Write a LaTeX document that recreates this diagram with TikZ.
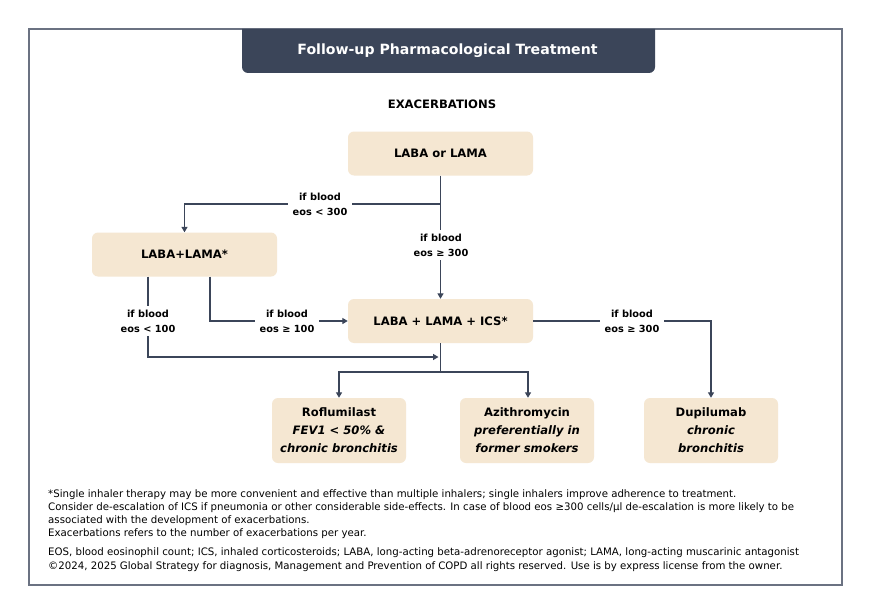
\documentclass[tikz,border=0pt]{standalone}
\usepackage{fontspec}
\setmainfont{DejaVu Sans}
\newfontfamily\footfont[FakeStretch=0.99]{DejaVu Sans}
\usetikzlibrary{arrows.meta}
\definecolor{boxfill}{HTML}{F5E7D2}
\definecolor{darkc}{HTML}{3B4559}
\definecolor{framec}{HTML}{6B7282}
\tikzset{
  treat/.style={fill=boxfill, rounded corners=6pt, minimum width=185pt, minimum height=44pt,
    font=\fontsize{11.6}{14}\selectfont\bfseries, align=center, inner sep=0pt},
  drug/.style={fill=boxfill, rounded corners=6pt, minimum width=134pt, minimum height=65pt,
    font=\fontsize{11.6}{18}\selectfont\bfseries, align=center, inner sep=0pt},
  conn/.style={draw=darkc, line width=1.4pt, -{Triangle[width=6pt,length=5.5pt]}},
  line/.style={draw=darkc, line width=1.4pt},
  cond/.style={fill=white, font=\fontsize{9.8}{15}\selectfont\bfseries, align=center, inner xsep=5pt, inner ysep=4pt},
}
\begin{document}
\begin{tikzpicture}[x=1pt,y=-1pt]
\useasboundingbox (0,0) rectangle (872,615);
\fill[white] (0,0) rectangle (872,615);
% frame
\draw[framec, line width=1.2pt] (29,29) rectangle (842,585);
% title tab
\fill[darkc] (242,29) -- (242,67) arc[start angle=180,end angle=90,radius=6] -- (649,73)
  arc[start angle=90,end angle=0,radius=6] -- (655,29) -- cycle;
\node[text=white, font=\fontsize{14.1}{16}\selectfont\bfseries] (title) at (447.5,51) {Follow-up Pharmacological Treatment};
\node[font=\fontsize{11.6}{14}\selectfont\bfseries] (exa) at (442,104) {EXACERBATIONS};
% boxes
\node[treat] (single) at (440.5,153.5) {LABA or LAMA};
\node[treat] (dual) at (184.5,254.5) {LABA+LAMA*};
\node[treat] (triple) at (440.5,321) {LABA + LAMA + ICS*};
\node[drug] (rof) at (339,430.5) {Roflumilast\\\itshape FEV1 < 50\% \&\\\itshape chronic bronchitis};
\node[drug] (azi) at (527,430.5) {Azithromycin\\\itshape preferentially in\\\itshape former smokers};
\node[drug] (dup) at (711,430.5) {Dupilumab\\\itshape chronic\\\itshape bronchitis};
% junction coordinates
\coordinate (j1) at (single.south |- 0,204);
\coordinate (j2) at (triple.south |- 0,357);
\coordinate (j3) at (triple.south |- 0,372);
% connectors
\draw[conn] (single.south) -- (triple.north);
\draw[conn] (j1) -| (dual.north);
\draw[conn] ([xshift=25.5pt]dual.south) |- (triple.west);
\draw[conn] ([xshift=-36.5pt]dual.south) |- ([xshift=-2pt]j2);
\draw[line] (triple.south) -- (j3);
\draw[conn] (j3) -| (rof.north);
\draw[conn] (j3) -| ([xshift=1pt]azi.north);
\draw[conn] (triple.east) -| (dup.north);
% condition labels
\node[cond] (c1) at (320,204) {if blood\\eos < 300};
\node[cond] (c2) at (441,245) {if blood\\eos ≥ 300};
\node[cond] (c3) at (148,321) {if blood\\eos < 100};
\node[cond] (c4) at (287,321) {if blood\\eos ≥ 100};
\node[cond] (c5) at (632,321) {if blood\\eos ≥ 300};
% notes
\node[anchor=north west, align=left, inner sep=0pt, font=\footfont\fontsize{10.3}{13.3}\selectfont] (notes) at (48,489)
{*Single inhaler therapy may be more convenient and effective than multiple inhalers; single inhalers improve adherence to treatment.\\
Consider de-escalation of ICS if pneumonia or other considerable side-effects. In case of blood eos ≥300 cells/µl de-escalation is more likely to be\\
associated with the development of exacerbations.\\
Exacerbations refers to the number of exacerbations per year.\\[5.5pt]
EOS, blood eosinophil count; ICS, inhaled corticosteroids; LABA, long-acting beta-adrenoreceptor agonist; LAMA, long-acting muscarinic antagonist\\
©2024, 2025 Global Strategy for diagnosis, Management and Prevention of COPD all rights reserved. Use is by express license from the owner.};
\end{tikzpicture}
\end{document}
